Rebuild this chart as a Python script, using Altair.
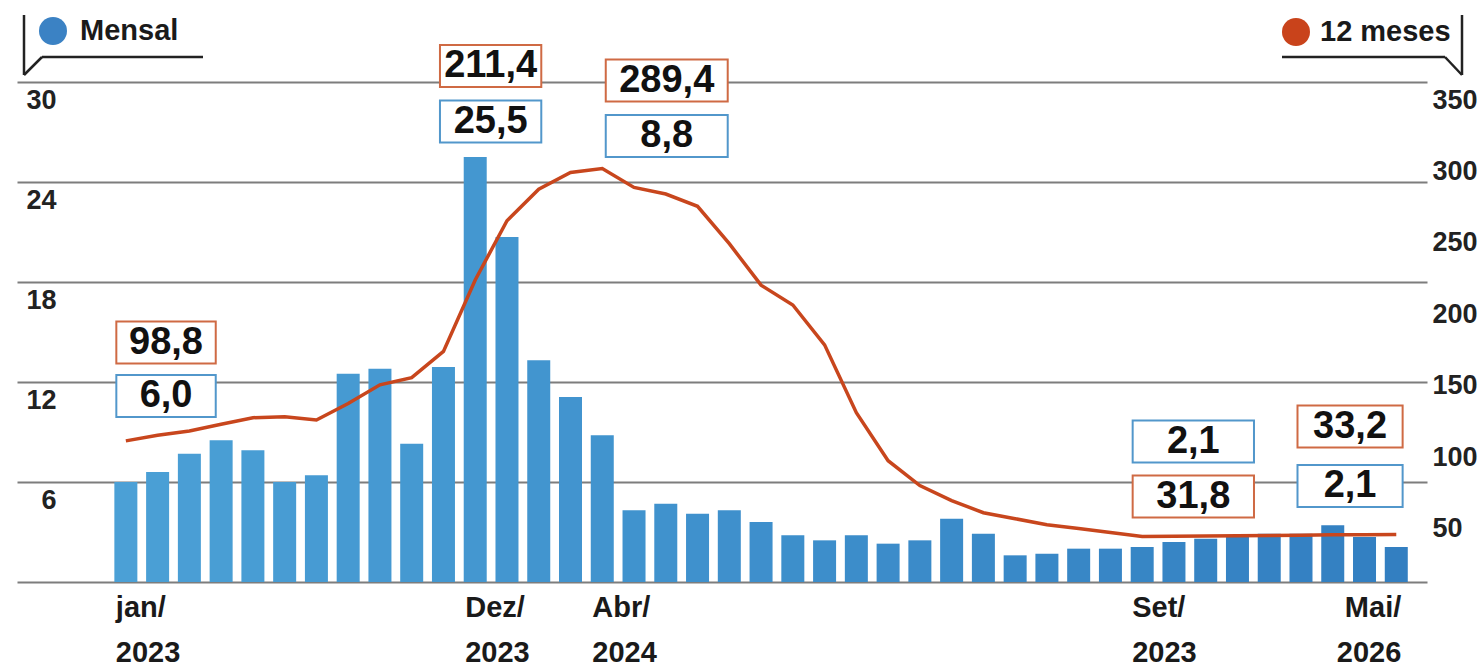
import altair as alt
import pandas as pd

# ---- data ----
mes_idx = list(range(41))  # jan/2023 ... mai/2026
mensal = [6.0, 6.6, 7.7, 8.5, 7.9, 6.0, 6.4, 12.5, 12.8, 8.3,
          12.9, 25.5, 20.7, 13.3, 11.1, 8.8, 4.3, 4.7, 4.1, 4.3,
          3.6, 2.8, 2.5, 2.8, 2.3, 2.5, 3.8, 2.9, 1.6, 1.7,
          2.0, 2.0, 2.1, 2.4, 2.6, 2.8, 2.9, 2.9, 3.4, 2.7, 2.1]
doze_meses = [98.8, 102.7, 105.7, 110.4, 115.0, 115.7, 113.4, 125.0, 138.0, 143.0,
              161.4, 211.4, 252.9, 275.0, 286.6, 289.4, 276.2, 271.6, 263.0, 236.8,
              207.8, 193.9, 166.0, 118.5, 84.9, 67.5, 57.0, 48.5, 44.3, 40.1,
              37.5, 34.6, 31.8, 32.0, 32.2, 32.4, 32.6, 32.8, 33.0, 33.1, 33.2]

xlab_idx = [0, 11, 15, 32, 40]
xlab_txt = ["jan/\n2023", "Dez/\n2023", "Abr/\n2024", "Set/\n2023", "Mai/\n2026"]

left_ticks = [0, 6, 12, 18, 24, 30]
right_ticks = [50, 100, 150, 200, 250, 300, 350]

ann_txt = ["98,8", "6,0", "211,4", "25,5", "289,4", "8,8", "2,1", "31,8", "33,2", "2,1"]
ann_serie = ["12 meses", "Mensal", "12 meses", "Mensal", "12 meses", "Mensal",
             "Mensal", "12 meses", "12 meses", "Mensal"]
ann_x0 = [-0.30, -0.30, 9.89, 9.89, 15.11, 15.11, 31.70, 31.70, 36.89, 36.89]
ann_x1 = [2.83, 2.83, 13.08, 13.08, 18.95, 18.95, 35.52, 35.52, 40.20, 40.20]
ann_y = [14.37, 11.16, 30.96, 27.63, 30.09, 26.76, 8.43, 5.13, 9.33, 5.76]

FONT = "Liberation Sans"
ORANGE = "#c8461d"
BOX_BLUE = "#5297cb"
BOX_ORANGE = "#cf6a44"

df = pd.DataFrame({"i": mes_idx, "mensal": mensal, "doze": doze_meses})
xl = pd.DataFrame({"i": xlab_idx, "txt": xlab_txt})
ann = pd.DataFrame({"txt": ann_txt, "serie": ann_serie, "x0": ann_x0, "x1": ann_x1, "yc": ann_y})
one = pd.DataFrame({"k": [0]})

xsc = alt.Scale(domain=[-3.27, 40.81], nice=False, zero=False)


def ysc_left():
    return alt.Scale(domain=[0, 30], nice=False, zero=False)


ysc_right = alt.Scale(domain=[0, 350], nice=False, zero=False)
serie_sc = alt.Scale(domain=["Mensal", "12 meses"], range=[BOX_BLUE, BOX_ORANGE])

# gridlines + left labels (axis drawn by a dedicated invisible layer)
bars = alt.Chart(df).mark_bar(size=23).encode(
    x=alt.X("i:Q", scale=xsc, axis=None),
    y=alt.Y("mensal:Q", scale=ysc_left(),
            axis=alt.Axis(orient="left", values=left_ticks, grid=True, gridColor="#7d7d7d",
                          gridWidth=2, gridOpacity=1, domain=False, ticks=False,
                          labelPadding=-39, labelOffset=18,
                          labelFont=FONT, labelFontSize=27, labelFontWeight="bold",
                          labelColor="#222222", labelAlign="right",
                          labelExpr="datum.value == 0 ? '' : datum.label", title=None)),
    color=alt.Color("i:Q", scale=alt.Scale(domain=[0, 40], range=["#4ba0d6", "#337fc1"]), legend=None),
)

boxes = alt.Chart(ann).transform_calculate(
    ylo="datum.yc - 1.26", yhi="datum.yc + 1.26"
).mark_rect(fill="white", strokeWidth=2).encode(
    x=alt.X("x0:Q", scale=xsc, axis=None),
    x2="x1:Q",
    y=alt.Y("ylo:Q", scale=ysc_left(), axis=None),
    y2="yhi:Q",
    stroke=alt.Stroke("serie:N", scale=serie_sc, legend=None),
)

box_txt = alt.Chart(ann).transform_calculate(
    xm="(datum.x0 + datum.x1) / 2"
).mark_text(font=FONT, fontSize=38, fontWeight="bold", color="#111111",
            baseline="middle", align="center").encode(
    x=alt.X("xm:Q", scale=xsc, axis=None),
    y=alt.Y("yc:Q", scale=ysc_left(), axis=None),
    text="txt:N",
)

xlab_left = alt.Chart(xl).transform_filter("datum.i < 40").mark_text(
    font=FONT, fontSize=29, fontWeight="bold", color="#1a1a1a", align="left",
    baseline="alphabetic", lineBreak="\n", lineHeight=45, dx=-10
).encode(x=alt.X("i:Q", scale=xsc, axis=None), y=alt.value(535), text="txt:N")

xlab_right = alt.Chart(xl).transform_filter("datum.i == 40").mark_text(
    font=FONT, fontSize=29, fontWeight="bold", color="#1a1a1a", align="right",
    baseline="alphabetic", lineBreak="\n", lineHeight=45, dx=5
).encode(x=alt.X("i:Q", scale=xsc, axis=None), y=alt.value(535), text="txt:N")

line = alt.Chart(df).mark_line(color=ORANGE, strokeWidth=3.5).encode(
    x=alt.X("i:Q", scale=xsc, axis=None),
    y=alt.Y("doze:Q", scale=ysc_right,
            axis=alt.Axis(orient="right", values=right_ticks, grid=False, domain=False,
                          ticks=False, labelPadding=5, labelOffset=18,
                          labelFont=FONT, labelFontSize=27, labelFontWeight="bold",
                          labelColor="#222222", title=None)),
)


# ---- header "legend" decorations ----
def rule(x1, y1, x2, y2):
    return alt.Chart(one).mark_rule(color="#222222", strokeWidth=2.5).encode(
        x=alt.value(x1), y=alt.value(y1), x2=alt.value(x2), y2=alt.value(y2))


def dot(x, y, color):
    return alt.Chart(one).mark_circle(size=784, color=color, opacity=1).encode(
        x=alt.value(x), y=alt.value(y))


def label(x, y, t):
    return alt.Chart(one).mark_text(font=FONT, fontSize=29, fontWeight="bold",
                                    color="#1a1a1a", align="left", baseline="middle").encode(
        x=alt.value(x), y=alt.value(y), text=alt.value(t))


chart = alt.layer(
    bars, line, boxes, box_txt, xlab_left, xlab_right,
    rule(7, -67, 7, -7), rule(7, -7, 25, -25), rule(25, -25, 186, -25),
    dot(36, -51, "#3b82c4"), label(63, -51, "Mensal"),
    rule(1445, -67, 1445, -7), rule(1445, -7, 1428, -25), rule(1428, -25, 1265, -25),
    dot(1279, -50, "#c9431b"), label(1303, -50, "12 meses"),
).resolve_scale(y="independent").properties(
    width=1410, height=500,
    autosize=alt.AutoSizeParams(type="none"),
    padding={"left": 17, "top": 82, "right": 55, "bottom": 88},
    background="white",
).configure_view(stroke=None)

chart.save("out.html", embed_options={"renderer": "svg", "actions": False})
